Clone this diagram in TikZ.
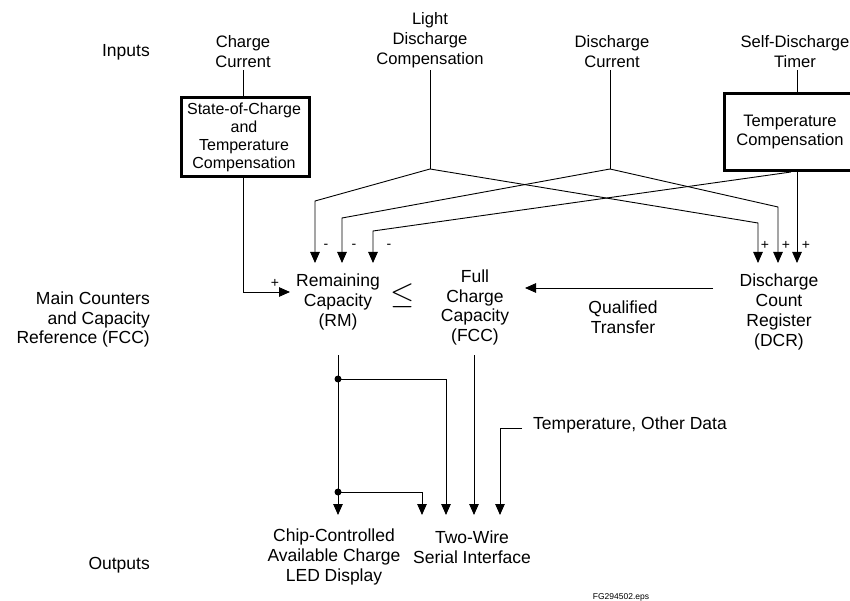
\documentclass[tikz,border=0pt]{standalone}
\usepackage{fontspec}
\setmainfont{Liberation Sans}
\usetikzlibrary{arrows.meta}
\begin{document}
\begin{tikzpicture}[x=1pt,y=-1pt,
  lbl/.style={font=\fontsize{17.5}{19.7}\selectfont, align=center, inner sep=0pt},
  toplbl/.style={lbl, font=\fontsize{16.6}{20}\selectfont},
  boxlbl/.style={lbl, font=\fontsize{16}{18}\selectfont},
  sgn/.style={font=\fontsize{14}{14}\selectfont, inner sep=0pt},
  wire/.style={line width=0.9pt},
  arr/.style={wire, -{Triangle[width=9.5pt,length=11pt]}},
  boxline/.style={line width=3pt},
  dot/.style={circle, fill=black, inner sep=0pt, minimum size=7pt}]
\useasboundingbox (0,0) rectangle (850,601);
% row labels
\node[lbl, anchor=east] (inputs) at (150,52) {Inputs};
\node[lbl, anchor=east, align=right] (main) at (150,319.5) {Main Counters\\and Capacity\\Reference (FCC)};
\node[lbl, anchor=east] (outputs) at (150,565) {Outputs};
% inputs
\node[toplbl] (cc) at (243,52) {Charge\\Current};
\node[toplbl] (ldc) at (430,40) {Light\\Discharge\\Compensation};
\node[toplbl] (dc) at (612,52) {Discharge\\Current};
\node[toplbl] (sdt) at (795,52) {Self-Discharge\\Timer};
\coordinate (ccT) at (243,70);
\coordinate (ldT) at (430,70);
\coordinate (dcT) at (610,70);
\coordinate (sdT) at (797,70);
% boxes
\draw[boxline] (181,98) rectangle (309,177);
\node[boxlbl] (soc) at (244,137) {State-of-Charge\\and\\Temperature\\Compensation};
\draw[boxline] (724,94) rectangle (858,171);
\node[lbl, font=\fontsize{16.6}{19.5}\selectfont] (tc) at (790,132) {Temperature\\Compensation};
\coordinate (socT) at (243,98);
\coordinate (socB) at (243,177);
\coordinate (tcT) at (797,94);
\coordinate (tcB) at (797,172);
\coordinate (tcB2) at (791,172);
% junctions
\coordinate (ldJ) at (430,169);
\coordinate (dcJ) at (610,169);
% middle nodes
\node[lbl] (rm) at (338,302) {Remaining\\Capacity\\(RM)};
\node[inner sep=0pt] (le) at (403,296) {\scalebox{3.1}{$\leq$}};
\node[lbl] (fcc) at (475,307.5) {Full\\Charge\\Capacity\\(FCC)};
\node[lbl] (dcr) at (779,312) {Discharge\\Count\\Register\\(DCR)};
\node[lbl] (qt) at (623,317.5) {Qualified\\Transfer};
% input wires
\draw[wire] (ccT) -- (socT);
\draw[wire] (sdT) -- (tcT);
\draw[wire] (ldT) -- (ldJ);
\draw[wire] (dcT) -- (dcJ);
\coordinate (L1) at (315,263); \coordinate (L2) at (342,263); \coordinate (L3) at (373,263);
\coordinate (R1) at (758,263); \coordinate (R2) at (778,263); \coordinate (R3) at (797,263);
\draw[arr] (ldJ) -- (315,201) -- (L1);
\draw[arr] (dcJ) -- (342,218) -- (L2);
\draw[arr] (tcB2) -- (373,231) -- (L3);
\draw[arr] (ldJ) -- (758,223) -- (R1);
\draw[arr] (dcJ) -- (778,207) -- (R2);
\draw[arr] (tcB) -- (R3);
\node[sgn] (m1) at (326,246) {-};
\node[sgn] (m2) at (354,246) {-};
\node[sgn] (m3) at (389,246) {-};
\node[sgn] (p1) at (765,245) {+};
\node[sgn] (p2) at (786,245) {+};
\node[sgn] (p3) at (806,245) {+};
% charge path
\coordinate (rmIn) at (290,292);
\draw[arr] (socB) -- (243,292) -- (rmIn);
\node[sgn] (pc) at (275,283) {+};
% transfer
\coordinate (dcrL) at (713,288);
\coordinate (fccR) at (525,288);
\draw[arr] (dcrL) -- (fccR);
% outputs
\node[lbl] (led) at (334,557) {Chip-Controlled\\Available Charge\\LED Display};
\node[lbl] (tw) at (472,547) {Two-Wire\\Serial Interface};
\node[lbl, anchor=west] (tod) at (533,425) {Temperature, Other Data};
\node[inner sep=0pt, font=\fontsize{8.5}{8.5}\selectfont] (fg) at (621,597) {FG294502.eps};
\coordinate (rmB) at (338,355);
\coordinate (fccB) at (474,355);
\node[dot] (d1) at (338,379) {};
\node[dot] (d2) at (338,492) {};
\draw[arr] (rmB) -- (338,515);
\draw[arr] (d1.center) -- (446,379) -- (446,515);
\draw[arr] (d2.center) -- (422,492) -- (422,515);
\draw[arr] (fccB) -- (474,515);
\draw[arr] (522,428) -- (500,428) -- (500,515);
\end{tikzpicture}
\end{document}
